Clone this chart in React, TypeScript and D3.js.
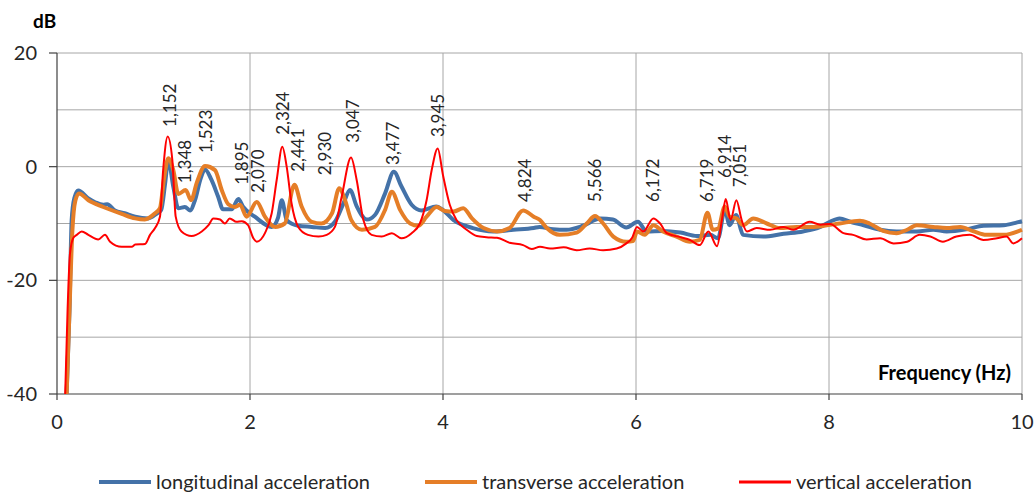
import React from "react";
import * as d3 from "d3";

const W = 1034;
const H = 495;

const xTicks = [0, 2, 4, 6, 8, 10];
const yTicks = [20, 0, -20, -40];
const yGrid = [20, 10, 0, -10, -20, -30];

const seriesNames = ["longitudinal acceleration", "transverse acceleration", "vertical acceleration"];
const seriesColors = ["#4472A8", "#E57E27", "#FF0000"];
const seriesWidths = [4, 4, 2];

const longitudinal: [number, number][] = [
  [0.10,-40],[0.13,-25],[0.152,-9.4],[0.18,-5.5],[0.22,-4.2],[0.325,-5.6],[0.40,-6.3],[0.48,-6.7],[0.52,-6.6],[0.6,-7.7],[0.7,-8.2],[0.81,-8.8],[0.946,-9.1],[1.03,-8.3],[1.08,-7.6],[1.12,-3],[1.153,1.2],[1.205,-3.5],[1.257,-7.3],[1.326,-7.1],[1.378,-7.7],[1.43,-5.9],[1.49,-2],[1.534,-0.5],[1.60,-2.3],[1.67,-5.3],[1.72,-7.5],[1.81,-7.5],[1.88,-5.7],[1.93,-7.1],[2.05,-8.8],[2.225,-10.6],[2.29,-9],[2.33,-5.9],[2.38,-9.4],[2.50,-10.4],[2.64,-10.6],[2.78,-10.8],[2.88,-9.7],[2.97,-6.4],[3.036,-4.1],[3.106,-7.0],[3.21,-9.3],[3.295,-8.5],[3.40,-4.7],[3.49,-0.9],[3.57,-3.5],[3.675,-6.7],[3.78,-7.7],[3.93,-7.0],[3.99,-7.5],[4.11,-9.4],[4.31,-10.8],[4.52,-11.4],[4.73,-11.1],[4.94,-10.8],[5.0,-10.6],[5.14,-11.0],[5.28,-11.1],[5.45,-10.4],[5.63,-9.1],[5.76,-9.3],[5.90,-10.7],[6.02,-9.7],[6.11,-11.4],[6.28,-11.3],[6.46,-11.6],[6.63,-12.2],[6.77,-12.0],[6.85,-12.6],[6.92,-7.6],[6.97,-10.3],[7.036,-8.5],[7.11,-12.0],[7.32,-12.3],[7.53,-11.8],[7.73,-11.4],[7.91,-10.6],[8.01,-9.7],[8.11,-9.1],[8.22,-9.7],[8.36,-10.3],[8.53,-11.1],[8.70,-11.4],[8.91,-11.4],[9.08,-11.1],[9.22,-11.4],[9.43,-11.0],[9.60,-10.4],[9.81,-10.3],[9.95,-9.8],[10,-9.6]
];

const transverse: [number, number][] = [
  [0.10,-40],[0.13,-25],[0.16,-11.1],[0.19,-6],[0.228,-4.7],[0.325,-5.9],[0.48,-7.1],[0.67,-8.3],[0.81,-9.1],[0.91,-9.3],[1.016,-8.2],[1.067,-7.3],[1.11,-2],[1.153,1.5],[1.205,-0.6],[1.257,-4.8],[1.333,-4.1],[1.39,-5.9],[1.447,-2.9],[1.534,0.1],[1.637,-0.6],[1.707,-4.1],[1.775,-6.6],[1.845,-7.1],[1.896,-6.7],[1.966,-8.8],[2.07,-6.2],[2.155,-8.8],[2.26,-10.6],[2.36,-10.0],[2.46,-3.2],[2.535,-7.0],[2.64,-9.7],[2.74,-10.0],[2.85,-8.2],[2.925,-3.8],[2.985,-5.9],[3.05,-9.4],[3.16,-11.1],[3.295,-10.6],[3.40,-7.6],[3.47,-4.4],[3.555,-7.6],[3.66,-10.0],[3.745,-10.4],[3.83,-8.8],[3.935,-7.1],[4.02,-7.8],[4.11,-7.9],[4.21,-7.3],[4.30,-9.1],[4.42,-10.8],[4.56,-11.4],[4.69,-10.8],[4.83,-7.7],[4.94,-8.8],[5.005,-9.4],[5.075,-10.8],[5.21,-12.0],[5.385,-11.6],[5.49,-10.0],[5.575,-8.7],[5.66,-10.0],[5.765,-12.3],[5.90,-13.2],[5.97,-13.1],[6.01,-11.4],[6.09,-12.0],[6.18,-10.3],[6.28,-11.4],[6.42,-12.3],[6.56,-13.2],[6.66,-12.9],[6.74,-8.1],[6.795,-11.1],[6.85,-10.9],[6.92,-7.0],[6.97,-8.8],[7.04,-9.1],[7.11,-10.3],[7.215,-9.1],[7.355,-10.0],[7.49,-10.8],[7.665,-10.6],[7.84,-10.6],[7.95,-10.4],[8.11,-10.0],[8.32,-9.5],[8.42,-10.0],[8.56,-11.3],[8.70,-11.7],[8.81,-11.1],[8.91,-10.3],[9.08,-10.6],[9.22,-10.8],[9.36,-10.6],[9.50,-11.4],[9.63,-12.0],[9.81,-12.0],[10,-11.1]
];

const vertical: [number, number][] = [
  [0.085,-40],[0.11,-25],[0.135,-15.2],[0.17,-12.5],[0.204,-12.0],[0.256,-11.4],[0.325,-12.0],[0.428,-12.8],[0.497,-12.0],[0.55,-13.2],[0.67,-14.1],[0.774,-14.1],[0.81,-13.7],[0.912,-13.6],[0.964,-12.0],[1.016,-10.8],[1.067,-8.8],[1.10,-0.6],[1.147,5.3],[1.195,1.2],[1.23,-8.8],[1.29,-11.4],[1.395,-12.2],[1.50,-11.4],[1.57,-10.3],[1.62,-9.1],[1.69,-9.3],[1.74,-10.0],[1.79,-9.1],[1.86,-9.7],[1.915,-9.6],[1.98,-10.3],[2.035,-12.6],[2.07,-13.2],[2.155,-11.7],[2.225,-8.2],[2.277,-2.3],[2.335,3.5],[2.38,0],[2.43,-6.4],[2.50,-10.6],[2.60,-12.0],[2.71,-12.3],[2.795,-12.0],[2.88,-10.6],[2.95,-5.3],[3.047,1.6],[3.105,-2.3],[3.175,-9.4],[3.26,-12.0],[3.365,-12.3],[3.47,-11.7],[3.57,-12.6],[3.675,-11.7],[3.76,-10.0],[3.83,-5.9],[3.883,-0.6],[3.945,3.2],[4.0,-1.5],[4.07,-6.7],[4.14,-9.4],[4.245,-11.1],[4.35,-12.2],[4.45,-12.4],[4.56,-12.5],[4.69,-13.4],[4.83,-13.8],[4.92,-14.5],[5.005,-14.1],[5.11,-14.4],[5.25,-14.2],[5.385,-14.7],[5.52,-14.4],[5.66,-14.7],[5.80,-14.4],[5.90,-13.5],[5.96,-12.5],[6.01,-10.6],[6.075,-11.4],[6.18,-9.1],[6.25,-10.0],[6.32,-11.7],[6.46,-12.4],[6.56,-12.9],[6.66,-13.8],[6.75,-11.4],[6.84,-14.0],[6.89,-9.4],[6.93,-5.7],[6.98,-9.4],[7.04,-5.9],[7.095,-9.4],[7.15,-11.4],[7.25,-10.8],[7.39,-11.1],[7.53,-10.6],[7.63,-11.1],[7.80,-9.7],[7.91,-10.2],[8.01,-10.1],[8.15,-11.7],[8.25,-12.0],[8.39,-12.8],[8.53,-12.6],[8.67,-13.5],[8.81,-13.2],[8.94,-12.0],[9.05,-12.3],[9.18,-13.2],[9.32,-12.3],[9.46,-12.0],[9.60,-12.9],[9.74,-12.6],[9.84,-12.3],[9.91,-13.5],[10,-12.6]
];

const peakLabels = ["1,152","1,348","1,523","1,895","2,070","2,324","2,441","2,930","3,047","3,477","3,945","4,824","5,566","6,172","6,719","6,914","7,051"];
// where each label sits: frequency of its centre line and dB of its lower end
const peakLabelF = [1.171, 1.326, 1.544, 1.917, 2.083, 2.339, 2.497, 2.777, 3.067, 3.482, 3.948, 4.85, 5.575, 6.176, 6.736, 6.922, 7.078];
const peakLabelDb = [7.0, -2.9, 2.4, -3.2, -4.6, 5.6, -0.9, -1.5, 4.2, 0.3, 5.2, -6.2, -6.2, -6.2, -6.2, -2.0, -3.6];

const FONT = "Lato, 'Open Sans', sans-serif";

export default function App() {
  const m = { left: 57, right: 1022, top: 53, bottom: 394 };
  const x = d3.scaleLinear().domain([0, 10]).range([m.left, m.right]);
  const y = d3.scaleLinear().domain([-40, 20]).range([m.bottom, m.top]);
  const line = d3
    .line<[number, number]>()
    .x((d) => x(d[0]))
    .y((d) => y(d[1]))
    .curve(d3.curveMonotoneX);
  const series = [longitudinal, transverse, vertical];
  const legendX = [99, 425, 739];

  return (
    <svg
      width={W}
      height={H}
      style={{ position: "absolute", left: 0, top: 0, background: "#fff" }}
      fontFamily={FONT}
    >
      {yGrid.map((v) => (
        <line key={"gy" + v} x1={m.left} x2={m.right} y1={y(v)} y2={y(v)} stroke="#A6A6A6" strokeWidth={1} />
      ))}
      {xTicks.filter((v) => v > 0).map((v) => (
        <line key={"gx" + v} x1={x(v)} x2={x(v)} y1={m.top} y2={m.bottom} stroke="#A6A6A6" strokeWidth={1} />
      ))}
      <line x1={m.left} x2={m.left} y1={m.top} y2={m.bottom} stroke="#404040" strokeWidth={1.2} />
      <line x1={m.left} x2={m.right} y1={m.bottom} y2={m.bottom} stroke="#404040" strokeWidth={1.2} />
      {yTicks.map((v) => (
        <g key={"yt" + v}>
          <line x1={m.left - 8} x2={m.left} y1={y(v)} y2={y(v)} stroke="#404040" strokeWidth={1.2} />
          <text x={m.left - 20} y={y(v)} dy="0.35em" textAnchor="end" fontSize={20} fill="#262626">
            {v}
          </text>
        </g>
      ))}
      {xTicks.map((v) => (
        <g key={"xt" + v}>
          <line x1={x(v)} x2={x(v)} y1={m.bottom} y2={m.bottom + 6} stroke="#404040" strokeWidth={1.2} />
          <text x={x(v)} y={m.bottom + 28} dy="0.35em" textAnchor="middle" fontSize={20} fill="#262626">
            {v}
          </text>
        </g>
      ))}
      {series.map((s, i) => (
        <path
          key={"s" + i}
          d={line(s) || ""}
          fill="none"
          stroke={seriesColors[i]}
          strokeWidth={seriesWidths[i]}
          strokeLinejoin="round"
        />
      ))}
      {peakLabels.map((lab, i) => {
        const px = x(peakLabelF[i]);
        const py = y(peakLabelDb[i]);
        return (
          <text
            key={"pl" + i}
            transform={`translate(${px},${py}) rotate(-90)`}
            dy="0.35em"
            fontSize={17}
            fill="#262626"
          >
            {lab}
          </text>
        );
      })}
      <text x={33} y={21} dy="0.35em" fontSize={19} fontWeight="bold" fill="#000">
        dB
      </text>
      <text x={1011} y={373} dy="0.35em" textAnchor="end" fontSize={20} fontWeight="bold" fill="#000">
        Frequency (Hz)
      </text>
      {seriesNames.map((n, i) => (
        <g key={"lg" + i}>
          <line
            x1={legendX[i]}
            x2={legendX[i] + 52}
            y1={482}
            y2={482}
            stroke={seriesColors[i]}
            strokeWidth={seriesWidths[i] === 2 ? 3 : 4}
          />
          <text x={legendX[i] + 57} y={482} dy="0.35em" fontSize={20} fill="#262626">
            {n}
          </text>
        </g>
      ))}
    </svg>
  );
}
